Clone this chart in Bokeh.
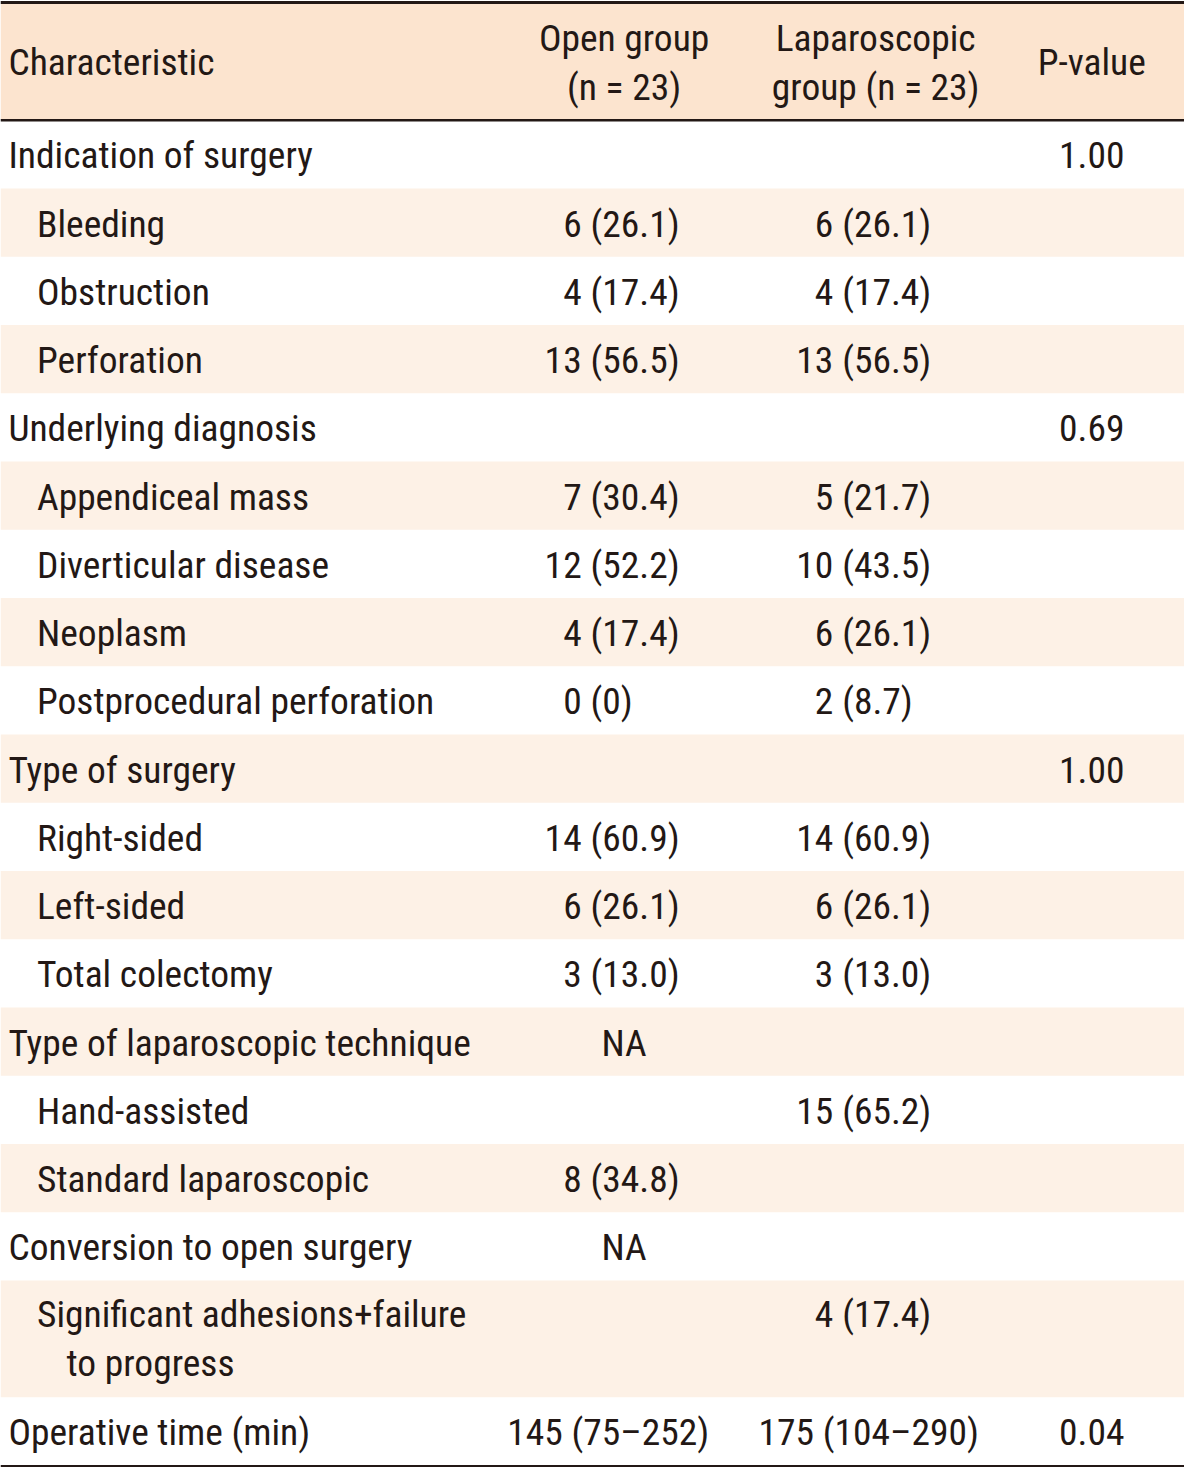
import re
from bokeh.plotting import figure
from bokeh.models import Range1d, ColumnDataSource
from bokeh.core.properties import value
from bokeh.embed import file_html
from bokeh.resources import INLINE

# ---------------- data ----------------
header_cols = ["Characteristic", "Open group\n(n = 23)", "Laparoscopic\ngroup (n = 23)", "P-value"]

labels = ["Indication of surgery", "Bleeding", "Obstruction", "Perforation",
          "Underlying diagnosis", "Appendiceal mass", "Diverticular disease", "Neoplasm",
          "Postprocedural perforation", "Type of surgery", "Right-sided", "Left-sided",
          "Total colectomy", "Type of laparoscopic technique", "Hand-assisted",
          "Standard laparoscopic", "Conversion to open surgery",
          "Significant adhesions+failure\nto progress", "Operative time (min)"]
indent = [0, 1, 1, 1, 0, 1, 1, 1, 1, 0, 1, 1, 1, 0, 1, 1, 0, 1, 0]
open_group = ["", "6 (26.1)", "4 (17.4)", "13 (56.5)", "", "7 (30.4)", "12 (52.2)", "4 (17.4)",
              "0 (0)", "", "14 (60.9)", "6 (26.1)", "3 (13.0)", "NA", "", "8 (34.8)", "NA", "",
              "145 (75\u2013252)"]
lap_group = ["", "6 (26.1)", "4 (17.4)", "13 (56.5)", "", "5 (21.7)", "10 (43.5)", "6 (26.1)",
             "2 (8.7)", "", "14 (60.9)", "6 (26.1)", "3 (13.0)", "", "15 (65.2)", "", "", "4 (17.4)",
             "175 (104\u2013290)"]
p_values = ["1.00", "", "", "", "0.69", "", "", "", "", "1.00", "", "", "", "", "", "", "", "",
            "0.04"]
row_lines = [1] * 17 + [2, 1]

# ---------------- layout ----------------
W, H = 1200, 1483
FONT = value("Roboto Condensed")
FS = "37.5px"
TXT = "#231815"
HEAD_BG = "#fce4cf"
BAND = "#fdf1e6"
LINE = "#231815"

header_top, header_bot = 3, 121
row_h = 69
line_h = 50
x_main, x_ind, x_wrap = 8, 37, 67
# (number right edge, parenthesis left edge, centre for other cells)
open_num, open_par, open_center, open_wide = 589, 598, 632, 616
lap_num, lap_par, lap_center, lap_wide = 844, 853, 887, 880
p_center = 1106

p = figure(width=1184, height=1467, x_range=Range1d(0, W), y_range=Range1d(H, 0),
           output_backend="svg", toolbar_location=None, min_border=0,
           background_fill_color="white", border_fill_color="white")
p.axis.visible = False
p.grid.visible = False
p.outline_line_color = None

tops, bots = [], []
y = header_bot
for n in row_lines:
    h = row_h if n == 1 else 2 * row_h - 20
    tops.append(y)
    bots.append(y + h)
    y += h
table_bottom = bots[-1]

p.quad(left=[0], right=[W], top=[header_top], bottom=[header_bot], fill_color=HEAD_BG, line_color=None)
band_idx = [i for i in range(len(labels)) if i % 2 == 1]
p.quad(left=[0] * len(band_idx), right=[W] * len(band_idx),
       top=[tops[i] for i in band_idx], bottom=[bots[i] for i in band_idx],
       fill_color=BAND, line_color=None)

p.segment(x0=[0, 0, 0], x1=[W, W, W], y0=[2, header_bot, table_bottom + 1],
          y1=[2, header_bot, table_bottom + 1], line_color=LINE, line_width=[3, 2.5, 3])

tx, ty, tt, ta = [], [], [], []


def add(x, y, t, a):
    tx.append(x); ty.append(y); tt.append(t); ta.append(a)


hc = (header_top + header_bot) / 2
add(x_main, hc, header_cols[0], "left")
for txt, cx in [(header_cols[1], open_center), (header_cols[2], lap_center)]:
    l1, l2 = txt.split("\n")
    add(cx, hc - 24, l1, "center")
    add(cx, hc + 25, l2, "center")
add(p_center, hc, header_cols[3], "center")

for i, lab in enumerate(labels):
    first_y = tops[i] + row_h / 2 - 2 if row_lines[i] == 2 else (tops[i] + bots[i]) / 2
    first_y += 1
    parts = lab.split("\n")
    add(x_ind if indent[i] else x_main, first_y, parts[0], "left")
    for k, extra in enumerate(parts[1:]):
        add(x_wrap, first_y + line_h * (k + 1), extra, "left")
    for val, num_x, par_x, center, wide in [(open_group[i], open_num, open_par, open_center, open_wide),
                                            (lap_group[i], lap_num, lap_par, lap_center, lap_wide)]:
        if not val:
            continue
        m = re.match(r"^(\d+) (\([\d.]+\))$", val)
        if m:
            add(num_x, first_y, m.group(1), "right")
            add(par_x, first_y, m.group(2), "left")
        elif val == "NA":
            add(center, first_y, val, "center")
        else:
            add(wide, first_y, val, "center")
    if p_values[i]:
        add(p_center, first_y, p_values[i], "center")

src = ColumnDataSource(dict(x=tx, y=ty, text=tt, align=ta))
p.text(x="x", y="y", text="text", text_align="align", text_baseline="middle",
       text_font=FONT, text_font_size=FS, text_color=TXT, source=src)

open("out.html", "w").write(file_html(p, INLINE))
